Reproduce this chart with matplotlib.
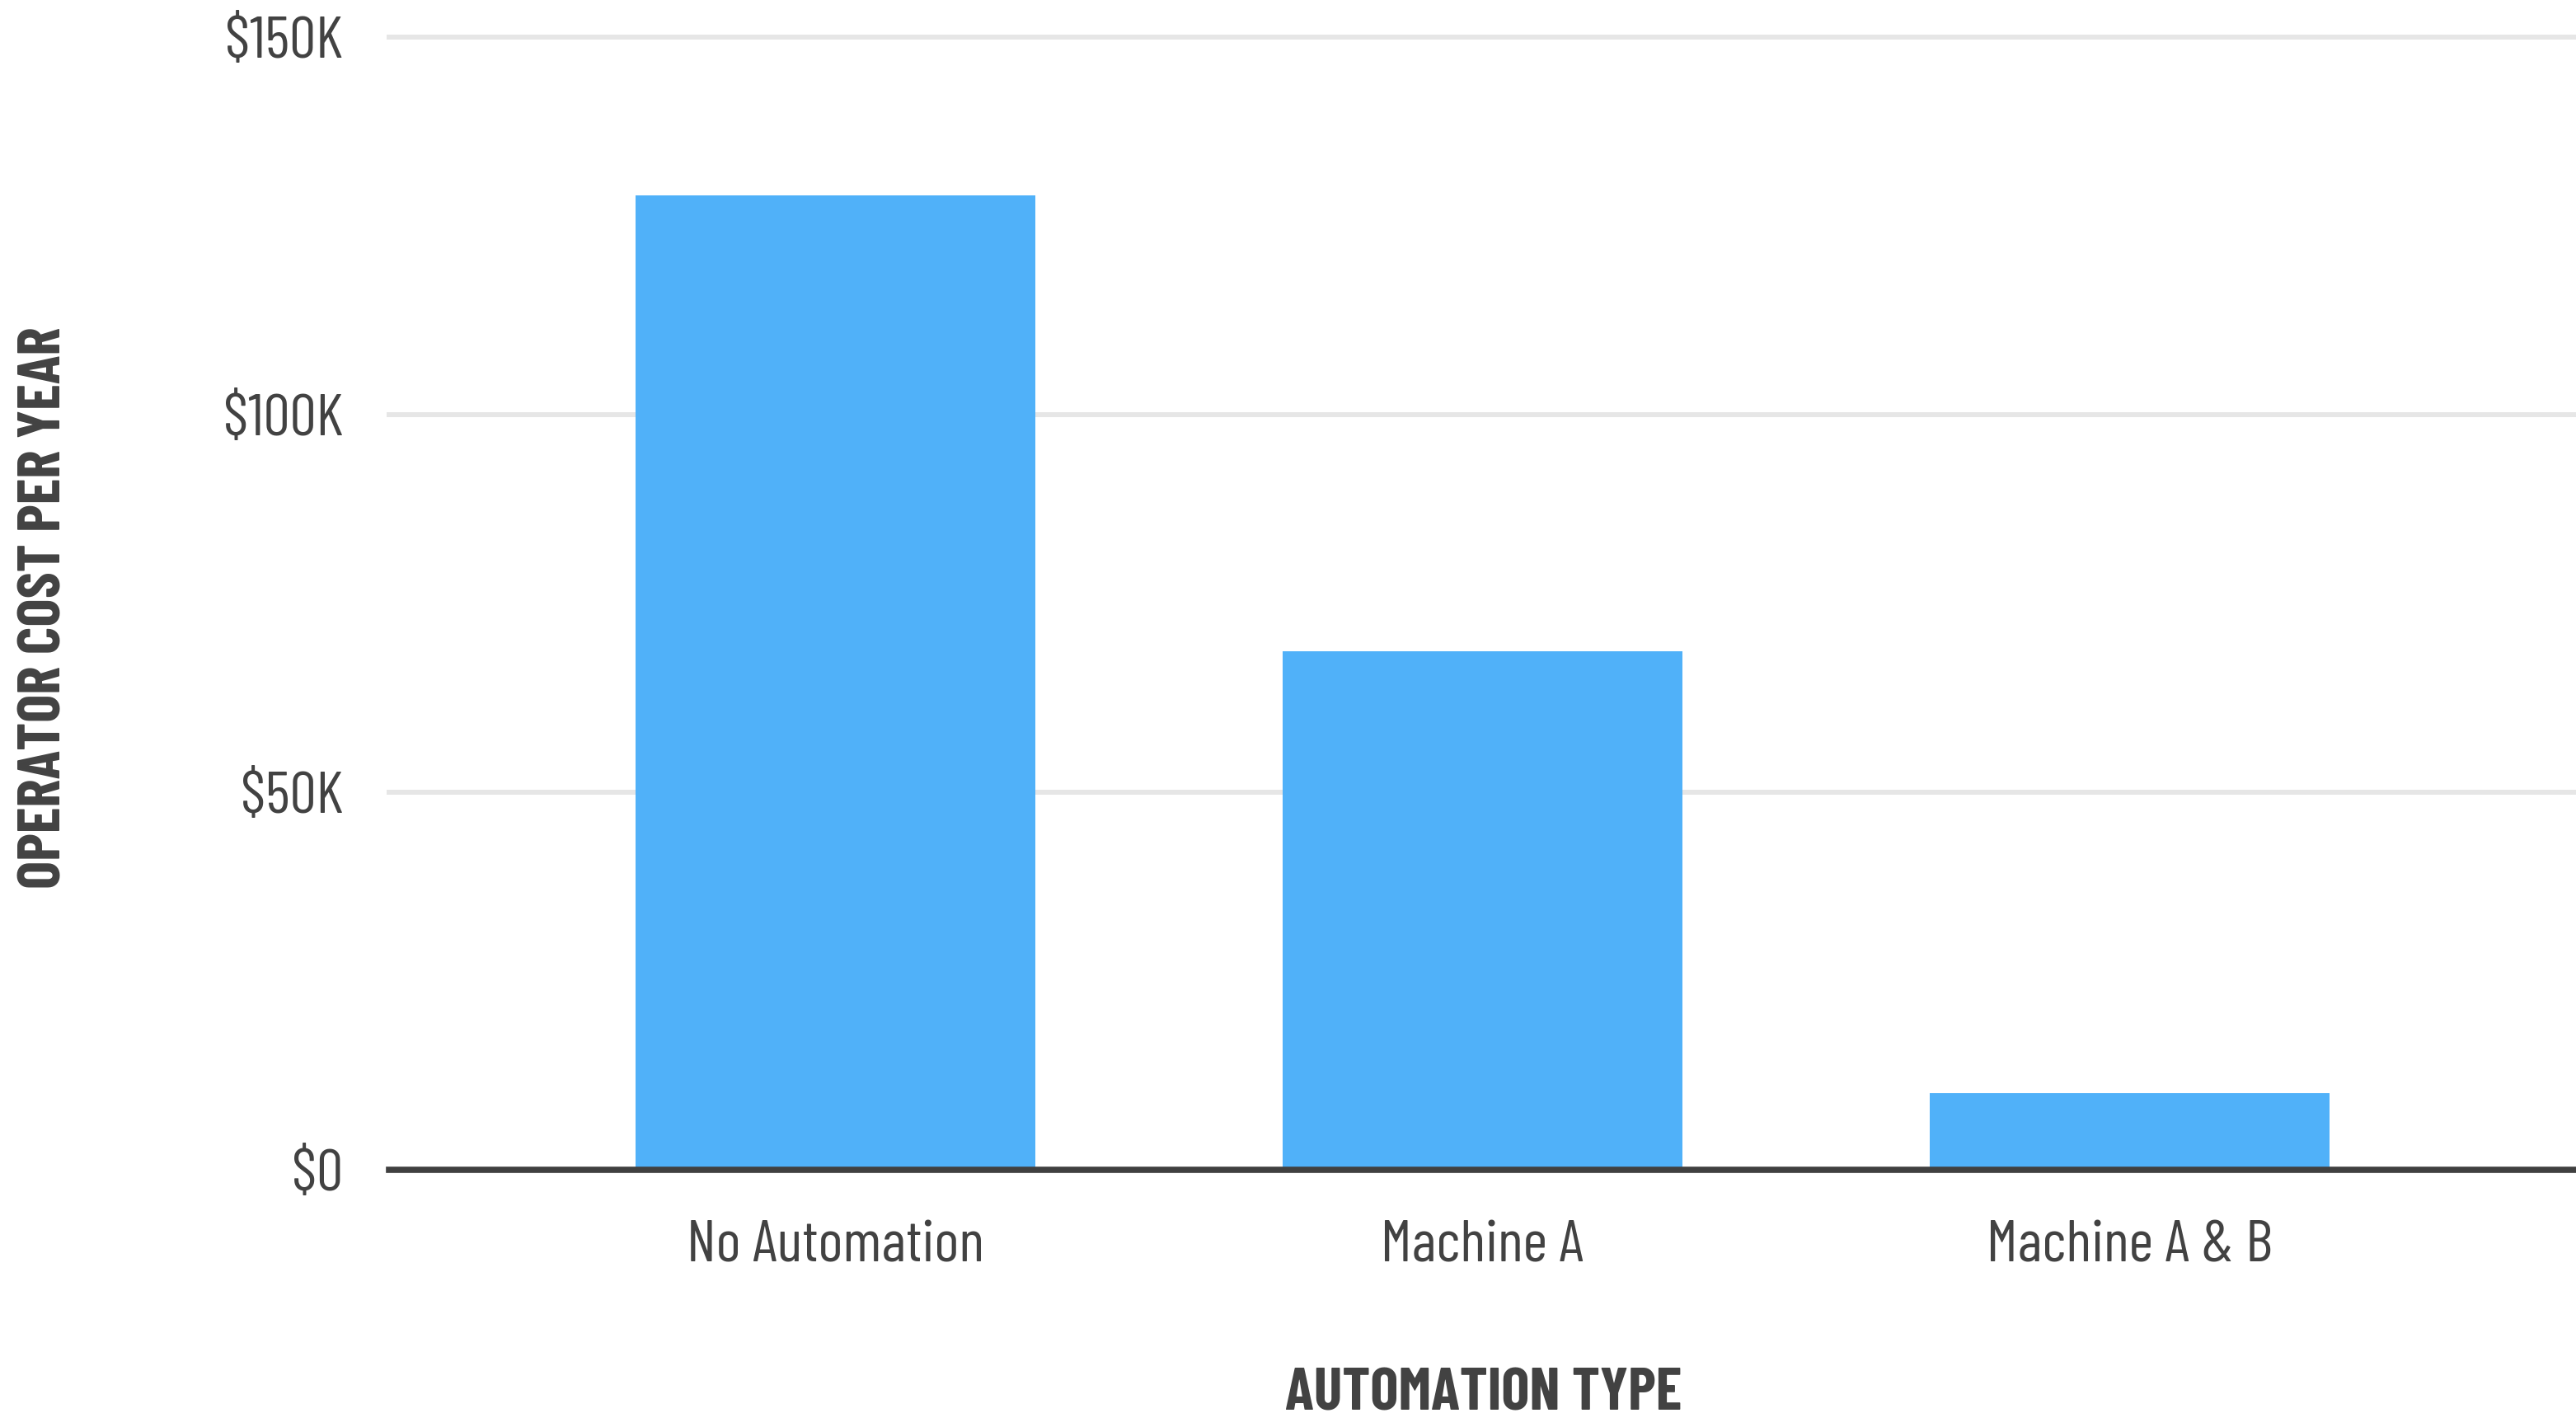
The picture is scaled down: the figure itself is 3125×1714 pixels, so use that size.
import matplotlib
matplotlib.use("Agg")
import matplotlib.pyplot as plt
from matplotlib import font_manager as fm
from matplotlib.ticker import FixedLocator

categories = ["No Automation", "Machine A", "Machine A & B"]
values = [129000, 68700, 10200]
yticks = [0, 50000, 100000, 150000]
ytick_labels = ["$0", "$50K", "$100K", "$150K"]

# find a condensed font if available
names = sorted({f.name for f in fm.fontManager.ttflist})
pref = ["Barlow Condensed", "Roboto Condensed", "Open Sans Condensed", "Liberation Sans Narrow",
        "Noto Sans Condensed", "DejaVu Sans Condensed"]
cond = None
for p in pref:
    if p in names:
        cond = p
        break
if cond is None:
    for n in names:
        if "Condensed" in n or "Narrow" in n:
            cond = n
            break
family = [cond, "DejaVu Sans"] if cond else ["DejaVu Sans"]
plt.rcParams["font.family"] = family

TEXT = "#424242"
BAR = "#50B1F9"
GRID = "#E6E6E6"

fig = plt.figure(figsize=(31.25, 17.14), dpi=100)
ax = fig.add_axes([0.151, 0.172, 0.849, 0.802])

ax.bar(range(len(categories)), values, width=0.617, color=BAR, zorder=2)
ax.set_xlim(-0.69, 2.69)
ax.set_ylim(0, 150000)

ax.yaxis.set_major_locator(FixedLocator(yticks))
ax.set_yticklabels(ytick_labels, fontsize=52, color=TEXT, fontweight="normal")
ax.set_xticks(range(len(categories)))
ax.set_xticklabels(categories, fontsize=52, color=TEXT, fontweight="normal")
ax.tick_params(axis="y", length=0, pad=40)
ax.tick_params(axis="x", length=0, pad=44)

for y in yticks[1:]:
    ax.axhline(y, color=GRID, lw=4.3, zorder=1, clip_on=False)
ax.axhline(0, color="#404040", lw=5.5, zorder=3, clip_on=False)

for s in ax.spines.values():
    s.set_visible(False)

fig.text(0.576, 0.013, "AUTOMATION TYPE", fontsize=52, fontweight="bold", color=TEXT,
         ha="center", va="center")
fig.text(0.0175, 0.57, "OPERATOR COST PER YEAR", fontsize=52, fontweight="bold", color=TEXT,
         ha="center", va="center", rotation=90)

fig.savefig("out.png", dpi=100, facecolor="white")
